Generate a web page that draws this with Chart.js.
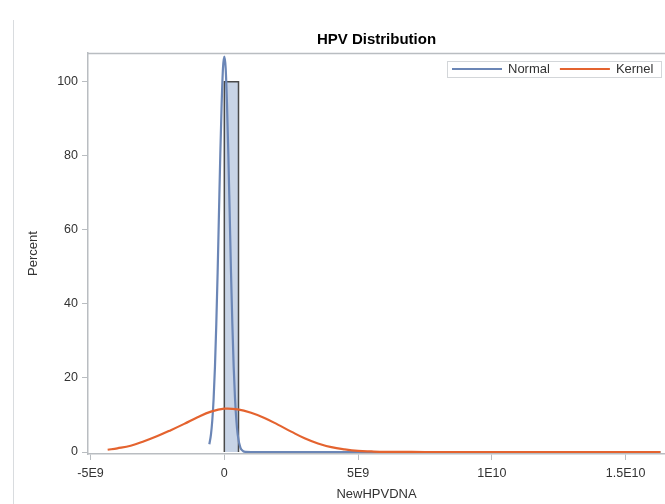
<!DOCTYPE html>
<html>
<head>
<meta charset="utf-8">
<script src="https://cdn.jsdelivr.net/npm/chart.js@4"></script>
<style>
  html, body { margin: 0; padding: 0; background: #fff; }
  #wrap { position: relative; width: 665px; height: 504px; overflow: hidden; }
  #edge { position: absolute; left: 13px; top: 20px; width: 1px; height: 484px; background: #d9dcdf; }
  canvas { position: absolute; left: 0; top: 0; }
</style>
</head>
<body>
<div id="wrap">
  <div id="edge"></div>
  <canvas id="hpv" width="665" height="504"></canvas>
</div>
<script>
// HPV distribution: histogram + fitted normal + kernel density
const xTicks = [-5e9, 0, 5e9, 1e10, 1.5e10];
const xTickLabels = ['-5E9', '0', '5E9', '1E10', '1.5E10'];
const yTicks = [0, 20, 40, 60, 80, 100];
const legendOrder = ['Normal', 'Kernel'];

// histogram bins (edges) and percent per bin
const binEdges = [0, 5.3e8];
const binPercent = [100];

// normal curve
const normalX = [-0.56e9, -0.5e9, -0.45e9, -0.4e9, -0.35e9, -0.3e9, -0.25e9, -0.2e9, -0.15e9, -0.1e9, -0.05e9, 0,
  0.05e9, 0.1e9, 0.15e9, 0.2e9, 0.25e9, 0.3e9, 0.35e9, 0.4e9, 0.45e9, 0.5e9, 0.6e9, 0.7e9, 0.8e9, 1.0e9, 16.3e9];
const normalY = [2.1, 4.7, 8.5, 14.4, 23, 34.6, 48.5, 64.6, 80.5, 94, 103.7, 106.8,
  103.7, 94, 80.5, 64.6, 48.5, 34.6, 23, 14.4, 8.5, 4.7, 1.2, 0.25, 0.04, 0, 0];

// kernel density
const kernelX = [-4.36e9, -4e9, -3.5e9, -3e9, -2.5e9, -2e9, -1.5e9, -1e9, -0.5e9, 0, 0.5e9, 1e9, 1.5e9,
  2e9, 2.5e9, 3e9, 3.5e9, 4e9, 4.5e9, 5e9, 5.5e9, 6e9, 7e9, 8e9, 16.3e9];
const kernelY = [0.6, 1.0, 1.7, 2.9, 4.3, 5.9, 7.6, 9.4, 10.9, 11.7, 11.5, 10.6, 9.2,
  7.4, 5.5, 3.7, 2.3, 1.3, 0.7, 0.3, 0.15, 0.05, 0.01, 0, 0];

const histPts = [];
binPercent.forEach((p, i) => {
  histPts.push({ x: binEdges[i], y: 0 }, { x: binEdges[i], y: p }, { x: binEdges[i + 1], y: p }, { x: binEdges[i + 1], y: 0 });
});

const pts = (xs, ys) => xs.map((x, i) => ({ x, y: ys[i] }));

const FONT = '"Liberation Sans", Arial, sans-serif';
const TXT = '#333';
const AXC = '#b9bdc1';

// title over the plot area, top frame line, inset legend
const framePlugin = {
  id: 'frame',
  afterDraw(chart) {
    const { ctx, chartArea: a } = chart;
    ctx.save();
    ctx.fillStyle = '#000';
    ctx.font = 'bold 15px ' + FONT;
    ctx.textAlign = 'center';
    ctx.textBaseline = 'middle';
    ctx.fillText('HPV Distribution', (a.left + a.right) / 2, 40);

    ctx.strokeStyle = AXC;
    ctx.lineWidth = 1.5;
    ctx.beginPath();
    ctx.moveTo(a.left, a.top + 0.5);
    ctx.lineTo(a.right, a.top + 0.5);
    ctx.stroke();

    // legend box
    const bx = 447.5, by = 61.5, bw = 214, bh = 16;
    ctx.fillStyle = '#fff';
    ctx.fillRect(bx, by, bw, bh);
    ctx.strokeStyle = '#d3d6d9';
    ctx.lineWidth = 1;
    ctx.strokeRect(bx, by, bw, bh);
    ctx.font = '13px ' + FONT;
    ctx.textAlign = 'left';
    const items = legendOrder.map(n => chart.data.datasets.find(d => d.label === n));
    let x = 452;
    const cy = 69;
    items.forEach(d => {
      ctx.strokeStyle = d.borderColor;
      ctx.lineWidth = 2;
      ctx.beginPath();
      ctx.moveTo(x, cy);
      ctx.lineTo(x + 50, cy);
      ctx.stroke();
      ctx.fillStyle = TXT;
      ctx.fillText(d.label, x + 56, cy);
      x += 56 + ctx.measureText(d.label).width + 10;
    });
    ctx.restore();
  }
};

new Chart(document.getElementById('hpv'), {
  type: 'line',
  data: {
    datasets: [
      { label: 'Kernel', data: pts(kernelX, kernelY), borderColor: '#e4632f', borderWidth: 2.2,
        pointRadius: 0, tension: 0.4, fill: false, order: 0 },
      { label: 'Normal', data: pts(normalX, normalY), borderColor: '#6b86b6', borderWidth: 2.2,
        pointRadius: 0, cubicInterpolationMode: 'monotone', fill: false, order: 1 },
      { label: 'Percent', data: histPts, borderColor: '#4a4a4a', borderWidth: 1.5, backgroundColor: '#c8d4e6',
        pointRadius: 0, tension: 0, fill: 'origin', order: 2 }
    ]
  },
  options: {
    responsive: false,
    animation: false,
    devicePixelRatio: 1,
    layout: { padding: { top: 53 } },
    plugins: {
      legend: { display: false },
      tooltip: { enabled: false },
      title: { display: false }
    },
    scales: {
      x: {
        type: 'linear', min: -5.095e9, max: 16.47e9,
        afterBuildTicks: s => { s.ticks = xTicks.map(v => ({ value: v })); },
        afterFit: s => { s.height = 50; },
        grid: { drawOnChartArea: false, drawTicks: true, tickLength: 6, color: AXC },
        border: { display: true, color: AXC, width: 1.5 },
        ticks: { color: TXT, padding: 6, maxRotation: 0, autoSkip: false,
          font: { family: FONT, size: 12.5 },
          callback: v => xTickLabels[xTicks.indexOf(v)] },
        title: { display: true, text: 'NewHPVDNA', color: TXT, padding: { top: 0, bottom: 2 },
          font: { family: FONT, size: 13, lineHeight: 1.2 } }
      },
      y: {
        min: -0.54, max: 107.8,
        afterBuildTicks: s => { s.ticks = yTicks.map(v => ({ value: v })); },
        afterFit: s => { s.width = 88; },
        grid: { drawOnChartArea: false, drawTicks: true, tickLength: 6, color: AXC },
        border: { display: true, color: AXC, width: 1.5 },
        ticks: { color: TXT, padding: 4, font: { family: FONT, size: 12.5 } },
        title: { display: true, text: 'Percent', color: TXT, padding: { top: 26, bottom: 0 },
          font: { family: FONT, size: 13, lineHeight: 1.2 } }
      }
    }
  },
  plugins: [framePlugin]
});
</script>
</body>
</html>
